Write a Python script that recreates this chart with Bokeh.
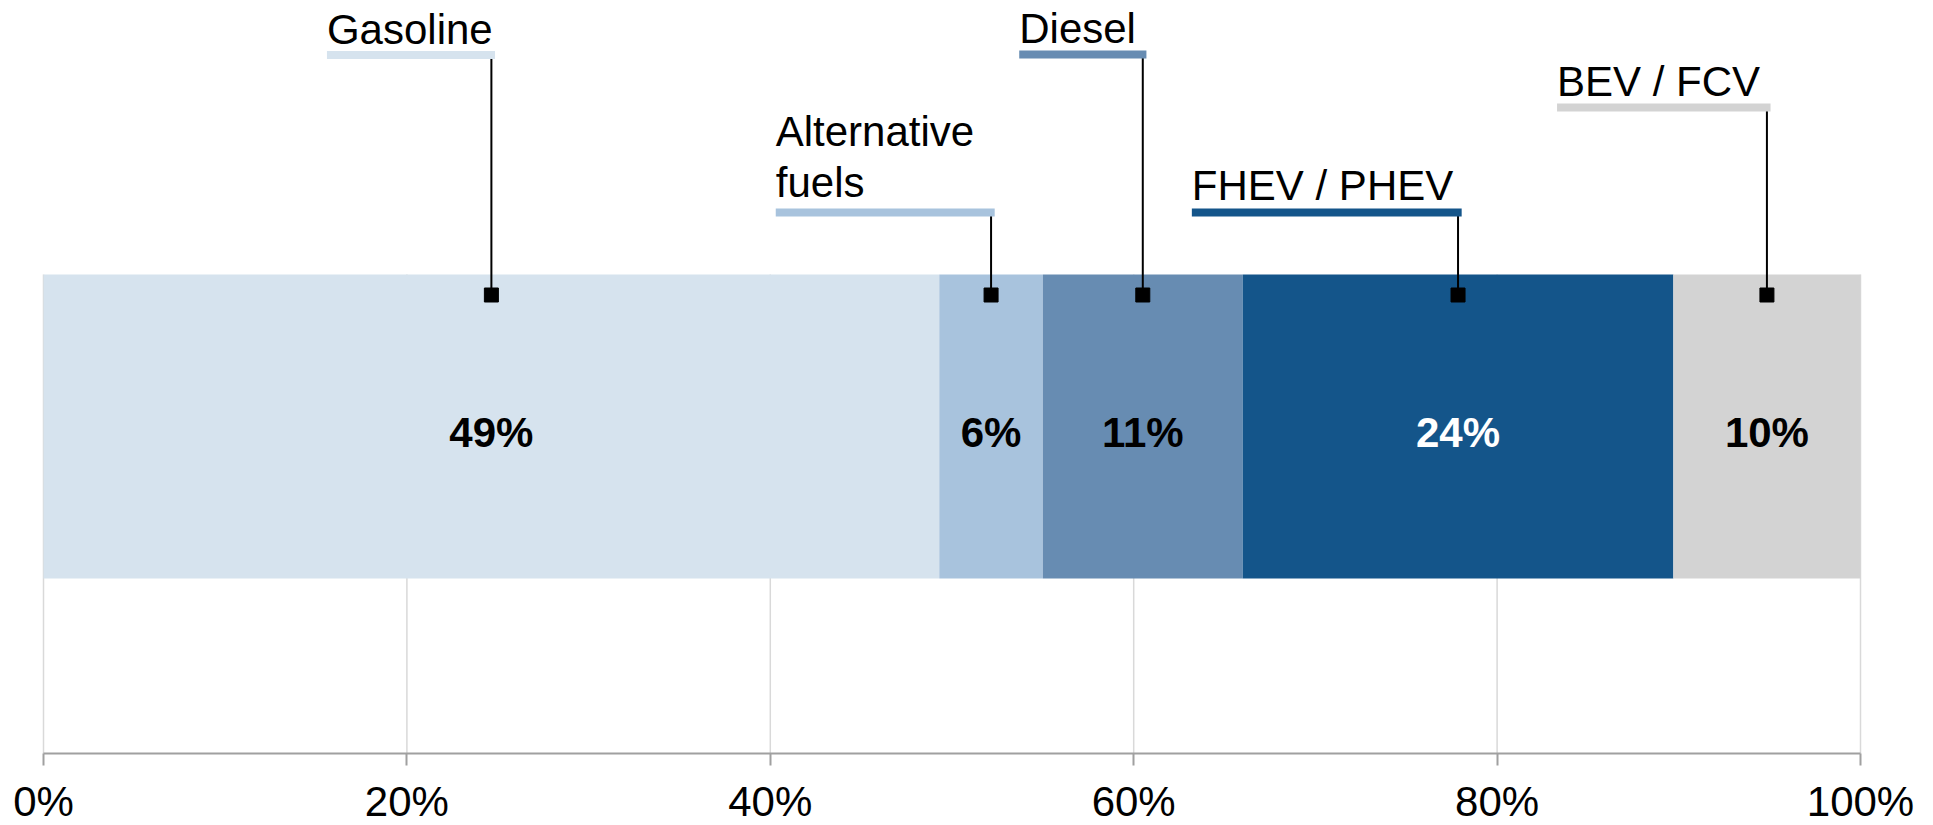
from bokeh.plotting import figure
from bokeh.models import ColumnDataSource, Range1d, FixedTicker
from bokeh.core.properties import value
from bokeh.embed import file_html
from bokeh.resources import INLINE

# ---- data ----
categories = ["Gasoline", "Alternative\nfuels", "Diesel", "FHEV / PHEV", "BEV / FCV"]
shares = [49.3, 5.7, 11.0, 23.7, 10.3]          # percent of total
share_labels = ["49%", "6%", "11%", "24%", "10%"]
tick_values = [0, 20, 40, 60, 80, 100]
tick_labels = ["0%", "20%", "40%", "60%", "80%", "100%"]

# ---- styles / layout ----
colors = ["#d6e3ee", "#a8c3dd", "#678cb2", "#14558a", "#d3d3d3"]
value_text_colors = ["#000000", "#000000", "#000000", "#ffffff", "#000000"]
callout_left = [15.6, 40.3, 53.7, 63.2, 83.3]     # left end of callout underline (axis %)
callout_y = [698.5, 541, 699, 541, 646]           # layout units (pixels above axis line)
callout_text_gap = [26, 30, 26, 27, 26]
line_spacing = 51
bar_bottom, bar_top = 175, 479
marker_y = 458.5
FONT = "Liberation Sans"

W, H = 1933, 825
PLOT_L, PLOT_R = 43, 1860       # pixel extent of 0%..100%
AXIS_Y = 753                    # pixel row of the axis line
ppu = (PLOT_R - PLOT_L) / 100.0

left = []
acc = 0.0
for s in shares:
    left.append(acc)
    acc += s
right = [l + s for l, s in zip(left, shares)]
mid = [(l + r) / 2 for l, r in zip(left, right)]

p = figure(width=W, height=H, output_backend="svg",
           toolbar_location=None, y_axis_location=None,
           x_range=Range1d(-PLOT_L / ppu, 100 + (W - PLOT_R) / ppu),
           y_range=Range1d(AXIS_Y - H, AXIS_Y),
           min_border_left=0, min_border_right=0, min_border_top=0,
           min_border_bottom=0)
p.outline_line_color = None
p.xgrid.visible = False
p.ygrid.visible = False
p.background_fill_color = "white"

# grid lines (only inside the plot area below the top of the bar)
p.segment(x0=tick_values, x1=tick_values, y0=[0] * len(tick_values),
          y1=[bar_top] * len(tick_values), line_color="#d9d9d9", line_width=1.5)

src = ColumnDataSource(dict(left=left, right=right, mid=mid, color=colors,
                            lab=share_labels, tcol=value_text_colors))
p.hbar(y=(bar_bottom + bar_top) / 2, height=bar_top - bar_bottom, left="left",
       right="right", fill_color="color", line_color=None, source=src)

p.text(x="mid", y=(bar_bottom + bar_top) / 2 - 6, text="lab", text_color="tcol",
       text_font=value(FONT), text_font_size="42px", text_font_style="bold",
       text_align="center", text_baseline="middle", source=src)

# callouts
for i, cat in enumerate(categories):
    p.segment(x0=[mid[i]], x1=[mid[i]], y0=[callout_y[i]], y1=[marker_y],
              line_color="black", line_width=2)
    p.segment(x0=[callout_left[i]], x1=[mid[i] + 0.2], y0=[callout_y[i]], y1=[callout_y[i]],
              line_color=colors[i], line_width=8, line_cap="butt")
    lines = cat.split("\n")
    n = len(lines)
    for j, ln in enumerate(lines):
        yb = callout_y[i] + callout_text_gap[i] + (n - 1 - j) * line_spacing
        p.text(x=[callout_left[i]], y=[yb], text=[ln], text_font=value(FONT),
               text_font_size="42px", text_color="black",
               text_align="left", text_baseline="alphabetic")

p.scatter(x=mid, y=[marker_y] * len(mid), marker="square", size=14,
          fill_color="black", line_color="black")

ax = p.xaxis[0]
ax.fixed_location = 0
ax.bounds = (0, 100)
ax.ticker = FixedTicker(ticks=tick_values)
ax.major_label_overrides = {v: t for v, t in zip(tick_values, tick_labels)}
ax.minor_tick_line_color = None
ax.axis_line_color = "#a0a0a0"
ax.axis_line_width = 2
ax.major_tick_line_color = "#a0a0a0"
ax.major_tick_line_width = 2
ax.major_tick_out = 12
ax.major_tick_in = 0
ax.major_label_standoff = 12
ax.major_label_text_font = FONT
ax.major_label_text_font_size = "42px"
ax.major_label_text_color = "black"

open("out.html", "w").write(file_html(p, INLINE))
